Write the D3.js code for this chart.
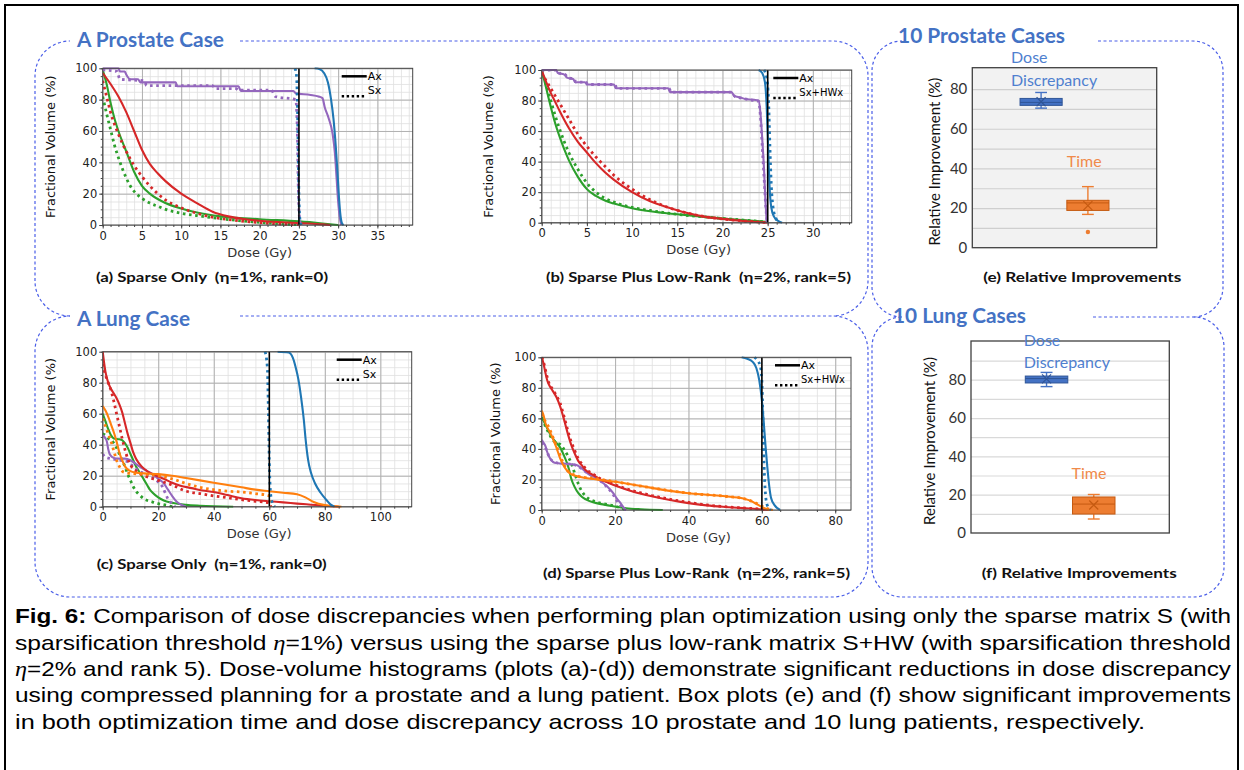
<!DOCTYPE html>
<html>
<head>
<meta charset="utf-8">
<script src="https://cdn.jsdelivr.net/npm/d3@7"></script>
<style>
  body { margin: 0; background: #fff; }
  svg { display: block; }
  text { white-space: pre; }
</style>
</head>
<body>
<div id="chart"></div>
<script>
// ---------- DVH data: [dose (Gy), fractional volume (%)] ----------
// (a) prostate, sparse only
const A_ptv_Ax = [[27,100],[27.6,99.5],[28.2,97],[28.7,91],[29.1,80],[29.4,68],[29.7,50],[29.9,35],[30.1,18],[30.3,6],[30.5,1],[30.7,0]];
const A_ptv_Sx = [[24.5,100],[24.7,95],[24.8,80],[24.9,50],[25.0,20],[25.1,5],[25.3,0]];
const A_purple_Ax = [[0,100],[2,100],[2.2,98],[2.8,98],[3,96],[3.5,93],[4.5,93],[4.8,91],[9.3,91],[9.5,88.5],[17.3,88.5],[17.6,85.5],[24.3,85.5],[24.6,84],[26.5,83],[27.5,82],[28,81],[28.3,75],[28.8,68],[29.3,58],[29.6,45],[29.8,30],[30,15],[30.2,5],[30.4,0]];
const A_purple_Sx = [[0,99],[1.8,98],[2.2,93],[5.3,92],[5.6,89],[14,89],[14.3,87],[17,87],[17.3,86],[21.5,86],[22,82],[24.6,80],[24.8,60],[24.9,30],[25.0,10],[25.2,0]];
const A_red_Ax = [[0,97],[1,90],[2,82],[3,72],[4,60],[5,48],[6,39],[7,33],[8,28],[10,20],[12,14],[14,8.5],[16,5.5],[18,3.8],[20,2.7],[25,1.2],[28,0.4],[29,0]];
const A_red_Sx = [[0,92],[0.5,82],[1,72],[2,58],[3,47],[4,38],[5,31],[6,25],[7,20],[8,16],[10,11],[12,7.5],[14,5],[16,3.5],[18,2.3],[20,1.5],[22,0.8],[25,0]];
const A_green_Ax = [[0,99],[0.5,90],[1,78],[1.5,68],[2,60],[3,47],[4,34],[5,25],[6,20],[8,14],[10,10.5],[12,8],[15,5.5],[20,3.7],[25,2.3],[28,1],[30,0]];
const A_green_Sx = [[0,82],[0.5,71],[1,61],[1.5,51],[2,43],[2.5,36],[3,30],[3.5,25],[4,21.5],[5,17],[6,14],[7,12],[8,10],[10,7.5],[12,6],[15,4],[18,2.5],[22,1],[25,0]];

// (b) prostate, sparse plus low-rank
const B_ptv_Ax = [[24,100],[24.4,98],[24.7,92],[24.9,75],[25.05,50],[25.2,25],[25.4,10],[25.7,4],[26.2,1],[26.6,0]];
const B_ptv_Sx = [[24.6,100],[24.9,95],[25.1,80],[25.25,50],[25.4,25],[25.6,10],[25.9,3],[26.3,0]];
const B_purple_Ax = [[0,100],[1.6,100],[1.8,98],[2.5,97],[2.8,95],[3.5,94],[3.7,92],[4.8,92],[5,90.5],[8,90.5],[8.2,88],[14,88],[14.2,85.5],[21,85.5],[21.3,83],[22,82],[22.5,81],[23.5,80.5],[24,80],[24.2,72],[24.4,55],[24.6,35],[24.75,15],[24.9,0]];
const B_purple_Sx = [[0,100],[1.7,100],[1.9,98],[2.6,97],[2.9,95],[3.6,94],[3.8,92],[4.9,92],[5.1,90.5],[8.1,90.5],[8.3,88],[14.1,88],[14.3,85.5],[21,85.5],[21.4,82.5],[22.2,81.5],[23,80.5],[24,79.5],[24.2,70],[24.4,50],[24.6,30],[24.8,10],[24.95,0]];
const B_red_Ax = [[0,100],[0.5,92],[1,85],[1.5,79],[2,73],[3,62],[4,53],[5,46],[6,39],[7,33],[8,28],[10,20],[12,14],[14,10],[16,6.5],[18,4],[20,2.5],[22,1.3],[25,0]];
const B_red_Sx = [[0,98],[1,88],[2,78],[3,68],[4,58],[5,50],[6,43],[7,37],[8,31],[10,22],[12,15],[14,10],[16,6.5],[18,4],[20,2.5],[22,1.3],[25,0]];
const B_green_Ax = [[0,100],[0.5,88],[1,76],[1.5,65],[2,56],[2.5,48],[3,41],[4,30],[5,22],[6,17.5],[7,14.5],[8,12.5],[10,9.5],[12,7.5],[15,5.5],[18,3.8],[21,2.3],[25,0.5]];
const B_green_Sx = [[0,100],[0.5,90],[1,80],[1.5,70],[2,61],[2.5,53],[3,46],[4,35],[5,26],[6,20],[7,16],[8,13.5],[10,10],[12,8],[15,5.5],[18,3.8],[21,2.3],[25,0.5]];

// (c) lung, sparse only
const C_ptv_Ax = [[63,100],[67,99.5],[68.5,96],[69.5,90],[70.5,82],[71.5,70],[72.5,55],[73,45],[74,30],[75,22],[76.5,15],[78.5,9],[80.5,4.5],[82,1.5],[83.5,0]];
const C_ptv_Sx = [[58.5,100],[59.3,90],[59.7,60],[60,30],[60.4,10],[61,3],[62,0]];
const C_red_Ax = [[0,100],[0.5,93],[1,87],[2,80],[3,76],[4,73],[5,70],[6,66],[7,61],[8,54],[9,47],[10,41],[11,35],[12,31],[14,26],[16,23],[18,21],[20,19.5],[22,18],[25,15.5],[28,13.5],[32,12],[36,10.5],[40,9.5],[45,7.5],[50,5.5],[55,4.3],[60,3.5],[65,2.8],[70,2],[75,1.3],[80,0.6],[85,0]];
const C_red_Sx = [[0,92],[1,85],[2,80],[3,75],[4,68],[5,60],[6,52],[7,44],[8,37],[9,31],[10,27],[12,23],[15,20],[20,17],[25,14],[30,10],[35,8.5],[40,7],[45,5.8],[50,4.5],[55,3.5],[60,2.5],[60.5,0]];
const C_orange_Ax = [[0,65],[1,62],[2,58],[3,53],[4,48],[5,42],[6,35],[7,30],[8,26],[10,23],[12,22],[15,21.5],[20,21],[25,20],[30,18.5],[35,17],[40,15.5],[45,14],[50,12.5],[55,11],[60,10],[65,9],[70,8],[73,6],[76,3],[80,1],[86,0]];
const C_orange_Sx = [[0,57],[1,52],[2,47],[3,42],[4,36],[5,30],[6,26],[7,23],[8,22],[10,21.5],[15,21],[20,20],[25,18],[30,15],[35,12.5],[40,11],[45,10],[50,9.5],[55,8.5],[60,7],[60.5,0]];
const C_green_Ax = [[0,60],[1,55],[2,50],[3,46],[4,44],[6,43.5],[7,43],[8,41],[9,38],[10,34],[11,30],[12,26],[13,23],[14,20],[15,17],[16,14],[17,11],[18,9],[20,6],[22,4],[25,2.5],[30,1.2],[35,0.6],[47,0]];
const C_green_Sx = [[0,47],[1,46],[2,44],[3,43],[4,41],[5,38],[6,34],[7,30],[8,26],[9,21],[10,17],[11,13],[12,10],[13,8],[15,5],[18,3],[20,2],[24,0.5],[25,0]];
const C_purple_Ax = [[0,46],[1,44],[1.5,42],[2,37],[2.5,34],[3.5,32],[5,31],[8,31],[10,30],[12,27.5],[14,25],[16,23],[18,21],[20,18],[22,15],[23.5,11],[25,7],[26.5,3.5],[28,1.5],[30,0]];
const C_purple_Sx = [[0,34],[1,32],[3,31],[6,30],[9,29],[11,26],[13,23],[15,21.5],[18,19],[20,16],[21.5,13],[22.5,9],[23.5,5],[25,2],[26,0]];

// (d) lung, sparse plus low-rank
const D_ptv_Ax = [[54.5,100],[56,99],[57.5,97],[58.5,93],[59.3,85],[60,72],[60.5,58],[61,42],[61.5,28],[62,16],[62.5,8],[63.5,3],[65,0]];
const D_ptv_Sx = [[58,100],[59.5,95],[60,85],[60.3,60],[60.6,30],[61,10],[61.5,3],[62.5,0]];
const D_red_Ax = [[0,100],[0.5,96],[1,90],[1.5,85],[2,82],[3,78],[4,74],[5,68],[6,60],[7,51],[8,43],[9,37],[10,32],[11,29],[12,26],[14,23],[16,20],[18,18],[20,16],[25,12],[30,9],[35,6.5],[40,4.5],[45,3],[50,2],[55,1.2],[60,0.4],[62,0]];
const D_red_Sx = [[0,100],[0.5,97],[1,92],[1.5,87],[2,83],[3,79],[4,75],[5,70],[6,62],[7,53],[8,45],[9,39],[10,33.5],[11,30],[12,27],[14,23.5],[16,20.5],[18,18.5],[20,16.5],[25,12.5],[30,9.5],[35,7],[40,5],[45,3.3],[50,2.2],[55,1.3],[60,0.5],[62,0]];
const D_orange_Ax = [[0,65],[0.5,62],[1,57],[2,52],[3,47],[4,41],[5,34],[6,29],[7,25.5],[8,23.5],[10,22],[12,21],[15,20],[20,18.5],[25,16.5],[30,14.5],[35,12.5],[40,11],[45,10],[50,9],[55,7.5],[57,6],[58.5,4],[60,2],[61.5,0.5],[63,0]];
const D_orange_Sx = [[0,63],[1,58],[2,54],[3,48],[4,42],[5,36],[6,30],[7,26],[8,24],[10,22],[15,20.5],[20,18.5],[30,14.5],[40,11],[50,9],[55,7.5],[58,5],[60,2.5],[62,0.5],[63,0]];
const D_green_Ax = [[0,61],[1,56],[2,51],[3,47],[4,44],[5,41],[6,36],[7,30],[7.5,26],[8,21],[9,15],[10,11],[11,8.5],[12,7],[14,5],[17,3.5],[20,2.3],[23,1.2],[27,0.5],[33,0]];
const D_green_Sx = [[0,60],[1,55],[2,50],[3,46],[4,44],[5,43],[6,40],[7,36],[8,31],[9,24],[10,17],[11,12],[12,9],[14,6],[17,4],[20,2.5],[22,1],[23,0]];
const D_purple_Ax = [[0,46],[0.5,44],[1,42],[1.5,38],[2,35],[2.5,33],[3.5,31],[5,30.5],[8,30],[9.5,29.5],[11,27],[12.5,24],[14,22],[16,19],[18,15],[19.5,11],[20.5,7.5],[21.5,4.5],[22.5,1],[23,0]];
const D_purple_Sx = [[0,44],[1,41],[2,35],[3,32],[5,30.5],[8,30],[10,28.5],[12,25],[14,22],[16,19],[18,14.5],[19.5,10],[20.5,6],[21.5,3],[22.5,0.5],[23,0]];

// prescription dose lines for panels a-d
const rxDoses = [25, 25, 60, 60];

// ---------- box plot data: relative improvement (%) ----------
const boxGroups = ["Dose Discrepancy", "Time"];
const prostateStats = [
  { group: "Dose Discrepancy", lo: 70.4, q1: 71.8, med: 73.3, q3: 75.3, hi: 78.3, mean: 73.6, outliers: [] },
  { group: "Time", lo: 16.8, q1: 18.8, med: 22.6, q3: 23.9, hi: 30.8, mean: 21.2, outliers: [7.9] }
];
const lungStats = [
  { group: "Dose Discrepancy", lo: 76.4, q1: 78.3, med: 80.6, q3: 81.9, hi: 83.8, mean: 80.4, outliers: [] },
  { group: "Time", lo: 7.3, q1: 9.9, med: 15.1, q3: 18.8, hi: 20.1, mean: 14.6, outliers: [] }
];

// ---------- caption ----------
const captionLines = [
  [{ t: "Fig. 6:", b: true }, { t: " Comparison of dose discrepancies when performing plan optimization using only the sparse matrix S (with" }],
  [{ t: "sparsification threshold " }, { t: "η", i: true }, { t: "=1%) versus using the sparse plus low-rank matrix S+HW (with sparsification threshold" }],
  [{ t: "η", i: true }, { t: "=2% and rank 5). Dose-volume histograms (plots (a)-(d)) demonstrate significant reductions in dose discrepancy" }],
  [{ t: "using compressed planning for a prostate and a lung patient. Box plots (e) and (f) show significant improvements" }],
  [{ t: "in both optimization time and dose discrepancy across 10 prostate and 10 lung patients, respectively." }]
];

// ---------------------------------------------------------------------------
const W = 1244, H = 770;
const svg = d3.select("#chart").append("svg").attr("width", W).attr("height", H);

const organColor = d3.scaleOrdinal()
  .domain(["ptv", "orange", "green", "red", "purple"])
  .range(["#1f77b4", "#ff7f0e", "#2ca02c", "#d62728", "#9467bd"]);

const boxColor = d3.scaleOrdinal().domain(boxGroups).range(["#4472C4", "#ED7D31"]);
const boxEdge = d3.scaleOrdinal().domain(boxGroups).range(["#2F5597", "#C55A11"]);
const boxText = d3.scaleOrdinal().domain(boxGroups).range(["#4f7fcf", "#f08a4a"]);

const blue = "#4a5ee8";

// outer frame
svg.append("rect").attr("x", 5).attr("y", 5).attr("width", 1233).attr("height", 800)
  .attr("fill", "none").attr("stroke", "#000").attr("stroke-width", 2);

// ---------- dashed rounded boxes ----------
function dashedBox(x0, y0, x1, y1, r, gapTo, drawBottom) {
  const p = d3.path();
  p.moveTo(gapTo, y0);
  p.lineTo(x1 - r, y0);
  p.arcTo(x1, y0, x1, y0 + r, r);
  p.lineTo(x1, y1 - r);
  p.arcTo(x1, y1, x1 - r, y1, r);
  if (drawBottom) p.lineTo(x0 + r, y1); else p.moveTo(x0 + r, y1);
  p.arcTo(x0, y1, x0, y1 - r, r);
  p.lineTo(x0, y0 + r);
  p.arcTo(x0, y0, x0 + r, y0, r);
  svg.append("path").attr("d", p.toString())
    .attr("fill", "none").attr("stroke", blue).attr("stroke-width", 1.2)
    .attr("stroke-dasharray", "3,2.5");
}
dashedBox(35, 41, 868, 316, 35, 240, false);
dashedBox(35, 316, 868, 597, 35, 240, true);
dashedBox(872, 41, 1223, 317, 30, 1098, false);
dashedBox(872, 317, 1224, 597, 30, 1093, true);

// headings
const headings = [
  { t: "A Prostate Case", x: 77, y: 47, w: 147 },
  { t: "A Lung Case", x: 77, y: 326, w: 113 },
  { t: "10 Prostate Cases", x: 898, y: 43, w: 167 },
  { t: "10 Lung Cases", x: 893, y: 323, w: 133 }
];
svg.selectAll(".heading").data(headings).join("text")
  .attr("class", "heading")
  .attr("x", d => d.x).attr("y", d => d.y)
  .attr("textLength", d => d.w).attr("lengthAdjust", "spacingAndGlyphs")
  .style("font-family", "Lato, 'Open Sans', sans-serif")
  .style("font-weight", "bold").style("font-size", "20px")
  .style("fill", "#4472C4")
  .text(d => d.t);

// ---------- DVH panels ----------
const dvhPanels = [
  { id: "a", curves: [
      { organ: "green", plan: "Ax", pts: A_green_Ax }, { organ: "green", plan: "Sx", pts: A_green_Sx },
      { organ: "red", plan: "Ax", pts: A_red_Ax }, { organ: "red", plan: "Sx", pts: A_red_Sx },
      { organ: "purple", plan: "Ax", pts: A_purple_Ax }, { organ: "purple", plan: "Sx", pts: A_purple_Sx },
      { organ: "ptv", plan: "Ax", pts: A_ptv_Ax }, { organ: "ptv", plan: "Sx", pts: A_ptv_Sx }],
    rx: rxDoses[0], left: 102.7, right: 412.7, top: 68.3, bottom: 225, xMax: 39.5, xStep: 5, xMinor: 1,
    legX: 341.7, legLabel: "Sx", yTitleX: 50.7,
    sub: "(a) Sparse Only  (η=1%, rank=0)", subX: 96, subW: 232, subY: 282 },
  { id: "b", curves: [
      { organ: "green", plan: "Ax", pts: B_green_Ax }, { organ: "green", plan: "Sx", pts: B_green_Sx },
      { organ: "red", plan: "Ax", pts: B_red_Ax }, { organ: "red", plan: "Sx", pts: B_red_Sx },
      { organ: "purple", plan: "Ax", pts: B_purple_Ax }, { organ: "purple", plan: "Sx", pts: B_purple_Sx },
      { organ: "ptv", plan: "Ax", pts: B_ptv_Ax }, { organ: "ptv", plan: "Sx", pts: B_ptv_Sx }],
    rx: rxDoses[1], left: 541.7, right: 851.7, top: 70, bottom: 222.7, xMax: 34.3, xStep: 5, xMinor: 1,
    legX: 773.3, legLabel: "Sx+HWx", yTitleX: 488.3,
    sub: "(b) Sparse Plus Low-Rank  (η=2%, rank=5)", subX: 546, subW: 305, subY: 282 },
  { id: "c", curves: [
      { organ: "green", plan: "Ax", pts: C_green_Ax }, { organ: "green", plan: "Sx", pts: C_green_Sx },
      { organ: "purple", plan: "Ax", pts: C_purple_Ax }, { organ: "purple", plan: "Sx", pts: C_purple_Sx },
      { organ: "red", plan: "Ax", pts: C_red_Ax }, { organ: "red", plan: "Sx", pts: C_red_Sx },
      { organ: "orange", plan: "Ax", pts: C_orange_Ax }, { organ: "orange", plan: "Sx", pts: C_orange_Sx },
      { organ: "ptv", plan: "Ax", pts: C_ptv_Ax }, { organ: "ptv", plan: "Sx", pts: C_ptv_Sx }],
    rx: rxDoses[2], left: 102.7, right: 411.7, top: 351.7, bottom: 506.7, xMax: 111.3, xStep: 20, xMinor: 5,
    legX: 336.7, legLabel: "Sx", yTitleX: 50.7,
    sub: "(c) Sparse Only  (η=1%, rank=0)", subX: 96.7, subW: 230, subY: 569 },
  { id: "d", curves: [
      { organ: "green", plan: "Ax", pts: D_green_Ax }, { organ: "green", plan: "Sx", pts: D_green_Sx },
      { organ: "purple", plan: "Ax", pts: D_purple_Ax }, { organ: "purple", plan: "Sx", pts: D_purple_Sx },
      { organ: "red", plan: "Ax", pts: D_red_Ax }, { organ: "red", plan: "Sx", pts: D_red_Sx },
      { organ: "orange", plan: "Ax", pts: D_orange_Ax }, { organ: "orange", plan: "Sx", pts: D_orange_Sx },
      { organ: "ptv", plan: "Ax", pts: D_ptv_Ax }, { organ: "ptv", plan: "Sx", pts: D_ptv_Sx }],
    rx: rxDoses[3], left: 541.7, right: 851, top: 357.3, bottom: 510, xMax: 84.3, xStep: 20, xMinor: 5,
    legX: 775, legLabel: "Sx+HWx", yTitleX: 495,
    sub: "(d) Sparse Plus Low-Rank  (η=2%, rank=5)", subX: 543, subW: 307, subY: 578 }
];

const dvhFont = "'DejaVu Sans', sans-serif";

function drawDVH(p) {
  const x = d3.scaleLinear().domain([0, p.xMax]).range([p.left, p.right]);
  const y = d3.scaleLinear().domain([0, 100]).range([p.bottom, p.top]);
  const w = p.right - p.left, h = p.bottom - p.top;
  const g = svg.append("g").attr("class", "dvh-" + p.id);

  const minorX = d3.range(0, p.xMax + 1e-6, p.xMinor);
  const majorX = d3.range(0, p.xMax + 1e-6, p.xStep);
  const minorY = d3.range(0, 100.001, 5);
  const majorY = d3.range(0, 100.001, 20);

  g.append("rect").attr("x", p.left).attr("y", p.top).attr("width", w).attr("height", h).attr("fill", "#fff");

  // grid: minor then major
  g.append("g").attr("transform", `translate(0,${p.bottom})`)
    .call(d3.axisBottom(x).tickValues(minorX).tickSize(-h).tickFormat(""))
    .call(s => s.select(".domain").remove())
    .selectAll("line").attr("stroke", "#e0e0e0").attr("stroke-width", 0.8);
  g.append("g").attr("transform", `translate(${p.left},0)`)
    .call(d3.axisLeft(y).tickValues(minorY).tickSize(-w).tickFormat(""))
    .call(s => s.select(".domain").remove())
    .selectAll("line").attr("stroke", "#e0e0e0").attr("stroke-width", 0.8);
  g.append("g").attr("transform", `translate(0,${p.bottom})`)
    .call(d3.axisBottom(x).tickValues(majorX).tickSize(-h).tickFormat(""))
    .call(s => s.select(".domain").remove())
    .selectAll("line").attr("stroke", "#b0b0b0").attr("stroke-width", 1);
  g.append("g").attr("transform", `translate(${p.left},0)`)
    .call(d3.axisLeft(y).tickValues(majorY).tickSize(-w).tickFormat(""))
    .call(s => s.select(".domain").remove())
    .selectAll("line").attr("stroke", "#b0b0b0").attr("stroke-width", 1);

  // curves
  const clipId = "clip-" + p.id;
  g.append("clipPath").attr("id", clipId).append("rect")
    .attr("x", p.left).attr("y", p.top - 1).attr("width", w).attr("height", h + 2);
  const line = d3.line().x(d => x(d[0])).y(d => y(d[1])).curve(d3.curveMonotoneX);
  const cg = g.append("g").attr("clip-path", `url(#${clipId})`);
  cg.selectAll("path.curve").data(p.curves).join("path")
    .attr("class", "curve")
    .attr("d", d => line(d.pts))
    .attr("fill", "none")
    .attr("stroke", d => organColor(d.organ))
    .attr("stroke-width", d => d.plan === "Ax" ? 2.1 : 2.8)
    .attr("stroke-dasharray", d => d.plan === "Ax" ? null : "2.6,3.6");

  // prescription line
  cg.append("line")
    .attr("x1", x(p.rx)).attr("x2", x(p.rx)).attr("y1", y(0)).attr("y2", y(100))
    .attr("stroke", "#000").attr("stroke-width", 1.5);

  // axes
  const xAx = g.append("g").attr("transform", `translate(0,${p.bottom})`);
  xAx.call(d3.axisBottom(x).tickValues(minorX).tickSize(2).tickFormat(""));
  xAx.append("g").call(d3.axisBottom(x).tickValues(majorX).tickSize(3.5).tickPadding(3));
  xAx.selectAll(".domain").remove();
  const yAx = g.append("g").attr("transform", `translate(${p.left},0)`);
  yAx.call(d3.axisLeft(y).tickValues(minorY).tickSize(2).tickFormat(""));
  yAx.append("g").call(d3.axisLeft(y).tickValues(majorY).tickSize(3.5).tickPadding(2));
  yAx.selectAll(".domain").remove();
  xAx.selectAll(".tick line").attr("stroke", "#444");
  yAx.selectAll(".tick line").attr("stroke", "#444");
  g.selectAll(".tick text").style("font-family", dvhFont).style("font-size", "11.5px").attr("fill", "#222");

  // frame
  g.append("rect").attr("x", p.left).attr("y", p.top).attr("width", w).attr("height", h)
    .attr("fill", "none").attr("stroke", "#444").attr("stroke-width", 1);

  // legend
  const lg = g.append("g");
  const ly = p.top + 8;
  lg.append("line").attr("x1", p.legX).attr("x2", p.legX + 25).attr("y1", ly).attr("y2", ly)
    .attr("stroke", "#000").attr("stroke-width", 2.5);
  lg.append("line").attr("x1", p.legX).attr("x2", p.legX + 25).attr("y1", ly + 20).attr("y2", ly + 20)
    .attr("stroke", "#000").attr("stroke-width", 2.6).attr("stroke-dasharray", "2.4,2.6");
  lg.append("text").attr("x", p.legX + 26).attr("y", ly + 4).text("Ax")
    .style("font-family", dvhFont).style("font-size", "11px").attr("fill", "#000");
  lg.append("text").attr("x", p.legX + 26).attr("y", ly + 18).text(p.legLabel)
    .style("font-family", dvhFont).style("font-size", p.legLabel === "Sx" ? "11px" : "10px").attr("fill", "#000");

  // axis titles
  g.append("text").attr("x", (p.left + p.right) / 2 + 2).attr("y", p.bottom + 31.5)
    .attr("text-anchor", "middle").text("Dose (Gy)")
    .style("font-family", dvhFont).style("font-size", "13px").attr("fill", "#333");
  g.append("text").attr("transform", `translate(${p.yTitleX},${(p.top + p.bottom) / 2}) rotate(-90)`)
    .attr("text-anchor", "middle").attr("dy", "0.35em").text("Fractional Volume (%)")
    .style("font-family", dvhFont).style("font-size", "13px").attr("fill", "#111");

  // subtitle
  g.append("text").attr("x", p.subX).attr("y", p.subY)
    .attr("textLength", p.subW).attr("lengthAdjust", "spacingAndGlyphs")
    .text(p.sub)
    .style("font-family", "Lato, 'Open Sans', sans-serif").style("font-weight", "bold")
    .style("font-size", "14px").attr("fill", "#111");
}

dvhPanels.forEach(drawDVH);

// ---------- box plot panels ----------
const boxPanels = [
  { id: "e", stats: prostateStats, left: 972.3, right: 1156.7, top: 67.7, bottom: 247.7, yMax: 90.8,
    bg: "#f2f2f2", grid: "#cfcfcf", padOuter: 1.02, yTitleX: 935,
    labels: [{ group: "Dose Discrepancy", lines: ["Dose", "Discrepancy"], at: [95.8, 84.6], dx: -9 },
             { group: "Time", lines: ["Time"], at: [43.4], dx: 0 }],
    sub: "(e) Relative Improvements", subX: 983.3, subW: 198, subY: 282 },
  { id: "f", stats: lungStats, left: 971, right: 1169.3, top: 341, bottom: 533, yMax: 100.2,
    bg: "#ffffff", grid: "#d9d9d9", padOuter: 1.15, yTitleX: 930,
    labels: [{ group: "Dose Discrepancy", lines: ["Dose", "Discrepancy"], at: [100.4, 89], dx: -1.5 },
             { group: "Time", lines: ["Time"], at: [31], dx: -1 }],
    sub: "(f) Relative Improvements", subX: 981.7, subW: 195, subY: 578 }
];

const excelFont = "Lato, 'Open Sans', sans-serif";

function drawBox(p) {
  const w = p.right - p.left, h = p.bottom - p.top;
  const x = d3.scaleBand().domain(boxGroups).range([p.left, p.right])
    .paddingInner(0.1).paddingOuter(p.padOuter);
  const y = d3.scaleLinear().domain([0, p.yMax]).range([p.bottom, p.top]);
  const g = svg.append("g").attr("class", "box-" + p.id);

  g.append("rect").attr("x", p.left).attr("y", p.top).attr("width", w).attr("height", h).attr("fill", p.bg);

  g.append("g").attr("transform", `translate(${p.left},0)`)
    .call(d3.axisLeft(y).tickValues(d3.range(10, p.yMax - 2, 10)).tickSize(-w).tickFormat(""))
    .call(s => s.select(".domain").remove())
    .selectAll("line").attr("stroke", p.grid).attr("stroke-width", 1.2);

  g.append("g").attr("transform", `translate(${p.left},0)`)
    .call(d3.axisLeft(y).tickValues(d3.range(0, 81, 20)).tickSize(0).tickPadding(5))
    .call(s => s.select(".domain").remove())
    .selectAll("text").style("font-family", excelFont).style("font-size", "15px").attr("fill", "#333");

  g.append("rect").attr("x", p.left).attr("y", p.top).attr("width", w).attr("height", h)
    .attr("fill", "none").attr("stroke", "#404040").attr("stroke-width", 1.3);

  const bw = x.bandwidth();
  const items = g.selectAll("g.item").data(p.stats).join("g").attr("class", "item");
  const cx = d => x(d.group) + bw / 2;

  // whiskers
  items.append("line").attr("x1", cx).attr("x2", cx).attr("y1", d => y(d.lo)).attr("y2", d => y(d.hi))
    .attr("stroke", d => boxColor(d.group)).attr("stroke-width", 1.4);
  ["lo", "hi"].forEach(k => {
    items.append("line")
      .attr("x1", d => cx(d) - bw * 0.14).attr("x2", d => cx(d) + bw * 0.14)
      .attr("y1", d => y(d[k])).attr("y2", d => y(d[k]))
      .attr("stroke", d => boxColor(d.group)).attr("stroke-width", 1.4);
  });
  // box
  items.append("rect").attr("x", d => x(d.group)).attr("width", bw)
    .attr("y", d => y(d.q3)).attr("height", d => y(d.q1) - y(d.q3))
    .attr("fill", d => boxColor(d.group)).attr("stroke", d => boxEdge(d.group)).attr("stroke-width", 1);
  // median
  items.append("line").attr("x1", d => x(d.group)).attr("x2", d => x(d.group) + bw)
    .attr("y1", d => y(d.med)).attr("y2", d => y(d.med))
    .attr("stroke", d => boxEdge(d.group)).attr("stroke-width", 1);
  // mean marker
  const s = 4.5;
  items.append("path")
    .attr("d", d => `M${cx(d) - s},${y(d.mean) - s}L${cx(d) + s},${y(d.mean) + s}M${cx(d) - s},${y(d.mean) + s}L${cx(d) + s},${y(d.mean) - s}`)
    .attr("stroke", d => boxEdge(d.group)).attr("stroke-width", 1.2).attr("fill", "none");
  // outliers
  items.selectAll("circle").data(d => d.outliers.map(v => ({ v, group: d.group }))).join("circle")
    .attr("cx", d => x(d.group) + bw / 2).attr("cy", d => y(d.v)).attr("r", 2.2)
    .attr("fill", d => boxColor(d.group));

  // series labels
  p.labels.forEach(l => {
    l.lines.forEach((t, i) => {
      g.append("text").attr("x", x(l.group) + l.dx).attr("y", y(l.at[i])).attr("dy", "0.35em")
        .text(t).style("font-family", excelFont).style("font-size", "16px")
        .attr("fill", boxText(l.group));
    });
  });

  g.append("text").attr("transform", `translate(${p.yTitleX},${(p.top + p.bottom) / 2 + 4}) rotate(-90)`)
    .attr("text-anchor", "middle").attr("dy", "0.35em").text("Relative Improvement (%)")
    .style("font-family", excelFont).style("font-size", "15px").attr("fill", "#111");

  g.append("text").attr("x", p.subX).attr("y", p.subY)
    .attr("textLength", p.subW).attr("lengthAdjust", "spacingAndGlyphs")
    .text(p.sub)
    .style("font-family", excelFont).style("font-weight", "bold")
    .style("font-size", "14px").attr("fill", "#111");
}

boxPanels.forEach(drawBox);

// ---------- caption ----------
const capBaselines = [623, 650, 676, 702, 729];
const capWidths = [1216, 1216, 1216, 1216, 1130];
captionLines.forEach((segs, i) => {
  const t = svg.append("text").attr("x", 15).attr("y", capBaselines[i])
    .attr("textLength", capWidths[i]).attr("lengthAdjust", "spacingAndGlyphs")
    .style("font-family", "'Liberation Sans', Arial, sans-serif").style("font-size", "21px")
    .attr("fill", "#000");
  segs.forEach(sg => {
    const ts = t.append("tspan").text(sg.t);
    if (sg.b) ts.style("font-weight", "bold");
    if (sg.i) ts.style("font-style", "italic").style("font-family", "'Liberation Serif', serif");
  });
});
</script>
</body>
</html>
